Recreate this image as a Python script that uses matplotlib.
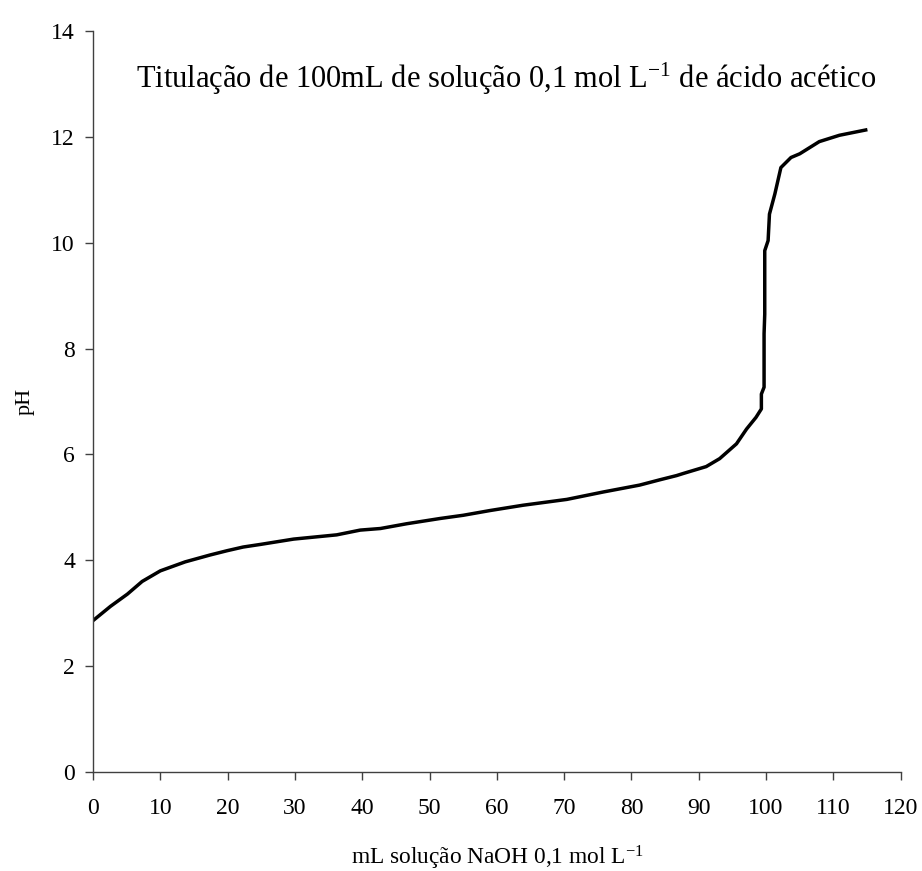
import matplotlib
matplotlib.use("Agg")
import matplotlib.pyplot as plt

plt.rcParams["font.family"] = ["Liberation Serif", "DejaVu Serif"]
plt.rcParams["mathtext.fontset"] = "custom"
plt.rcParams["mathtext.rm"] = "Liberation Serif"
plt.rcParams["mathtext.it"] = "Liberation Serif:italic"

# volume NaOH (mL) and pH
volume_ml = [0, 2.6, 5.1, 7.3, 10.0, 13.7, 17.4, 19.9, 22.3, 24.9, 29.8, 36.2,
             39.7, 42.7, 46.6, 51.6, 55.0, 59.0, 63.9, 70.4, 75.8, 81.2, 84.2,
             86.7, 87.7, 91.1, 93.1, 95.6, 97.1, 98.5, 99.3, 99.3, 99.7, 99.7,
             99.8, 99.8, 100.3, 100.5, 101.3, 102.2, 103.7, 105.0, 107.9, 110.9,
             114.8]
ph = [2.86, 3.13, 3.36, 3.60, 3.80, 3.97, 4.10, 4.18, 4.25, 4.30, 4.40, 4.48,
      4.57, 4.60, 4.69, 4.79, 4.85, 4.94, 5.04, 5.15, 5.29, 5.42, 5.52,
      5.60, 5.64, 5.77, 5.92, 6.20, 6.48, 6.70, 6.86, 7.14, 7.27, 8.28,
      8.65, 9.85, 10.04, 10.54, 10.92, 11.42, 11.61, 11.68, 11.91, 12.03,
      12.13]

x_ticks = list(range(0, 121, 10))
y_ticks = list(range(0, 15, 2))

fig = plt.figure(figsize=(9.22, 8.71), dpi=100)
ax = fig.add_axes([0.1009, 0.1137, 0.876, 0.8507])

ax.plot(volume_ml, ph, color="black", lw=2.5, solid_joinstyle="round")

ax.set_xlim(0, 120)
ax.set_ylim(0, 14)
ax.set_xticks(x_ticks)
ax.set_yticks(y_ticks)
ax.tick_params(labelsize=17, length=6, width=1, color="#404040")
ax.tick_params(axis="x", pad=13)
ax.tick_params(axis="y", pad=7)
for side in ("top", "right"):
    ax.spines[side].set_visible(False)
for side in ("left", "bottom"):
    ax.spines[side].set_color("#404040")
    ax.spines[side].set_linewidth(1)

ax.set_xlabel("mL solução NaOH 0,1 mol L$^{-1}$", fontsize=16.8)
ax.xaxis.set_label_coords(0.5, -0.097)
ax.set_ylabel("pH", fontsize=16)
ax.yaxis.set_label_coords(-0.072, 0.5)

ax.text(0.511, 0.936, "Titulação de 100mL de solução 0,1 mol L$^{-1}$ de ácido acético",
        transform=ax.transAxes, ha="center", va="center", fontsize=22)

fig.savefig("out.png", dpi=100)
